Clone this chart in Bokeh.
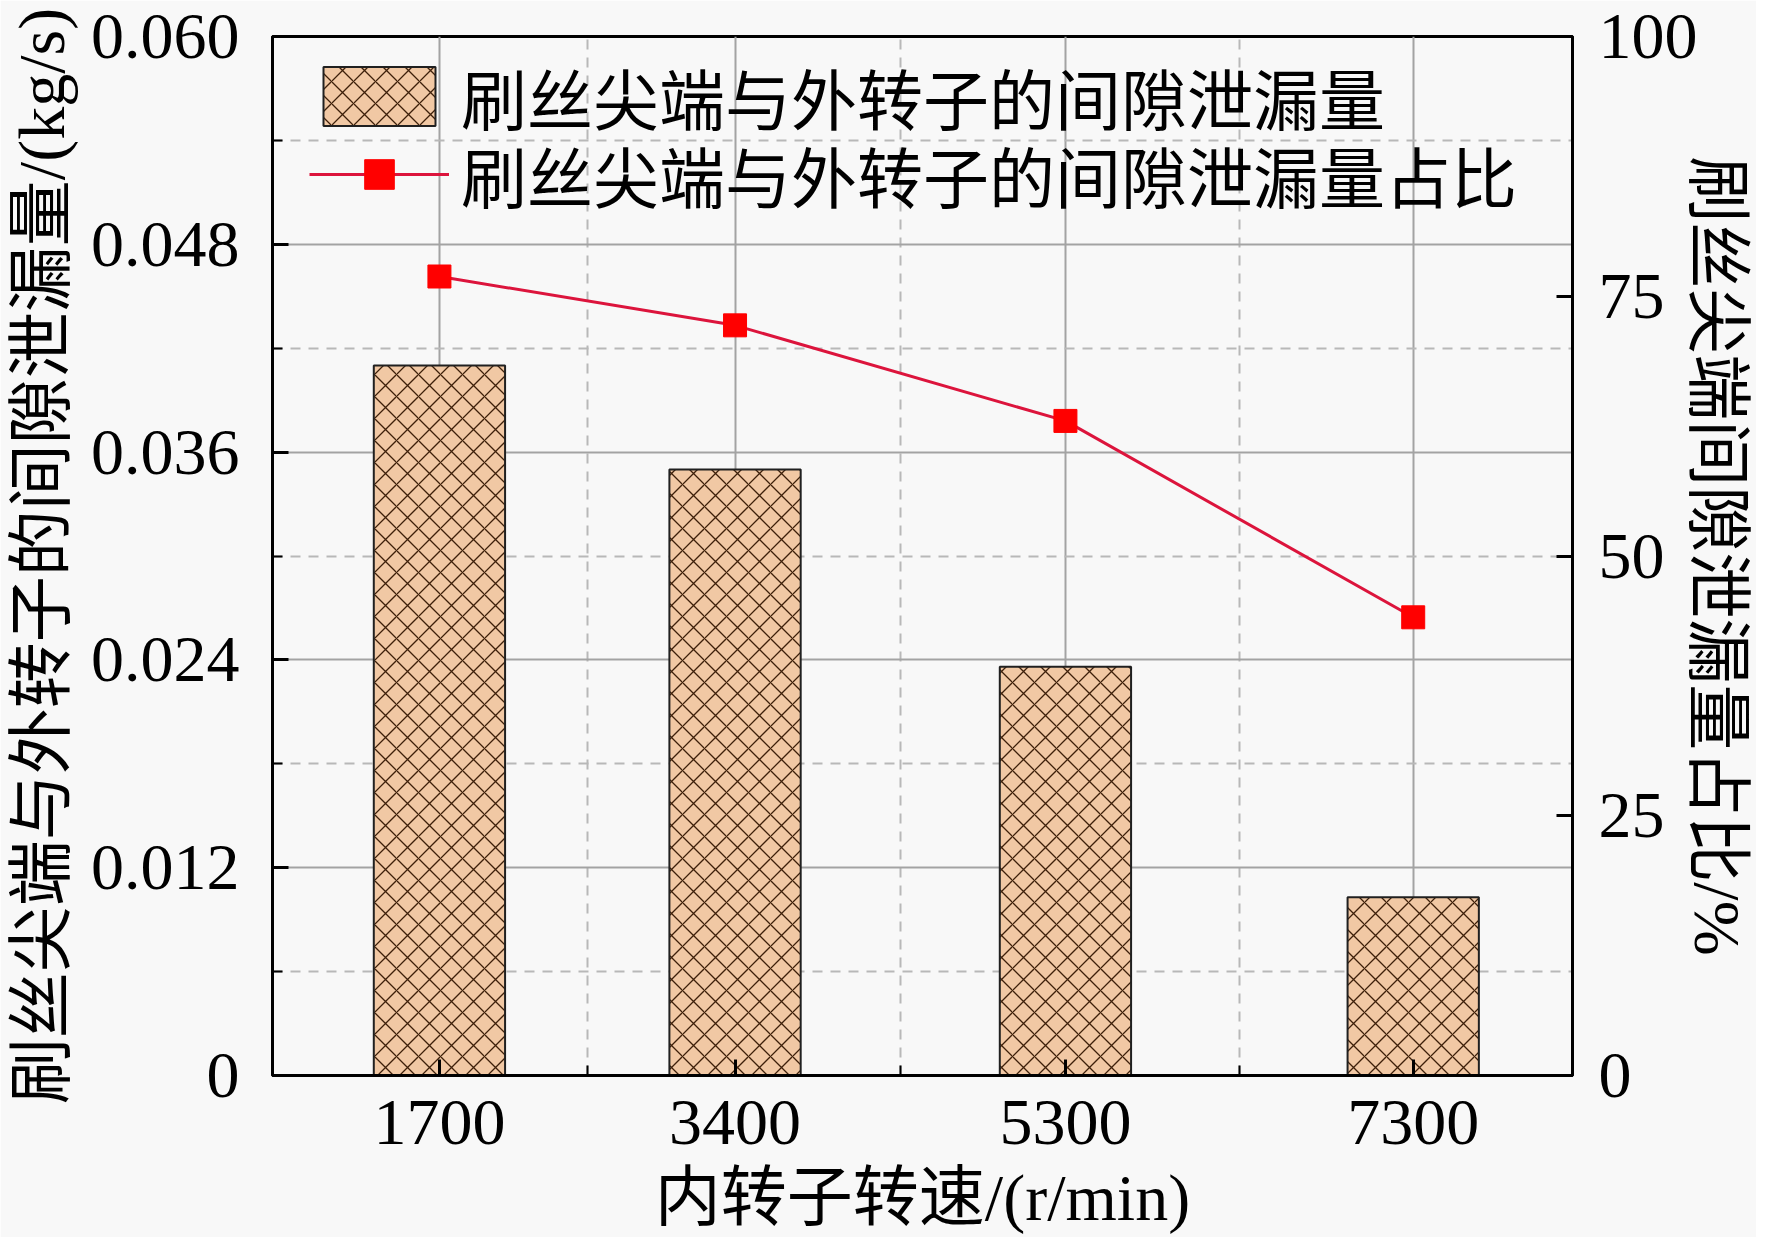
from bokeh.plotting import figure
from bokeh.models import Range1d, LinearAxis, FixedTicker, Legend, LegendItem
from bokeh.embed import file_html
from bokeh.resources import INLINE

# ---- data ----
speeds = [1700, 3400, 5300, 7300]
leakage = [0.0410, 0.0350, 0.0236, 0.0103]
ratio = [76.9, 72.2, 63.0, 44.1]

x_ticks = [1700, 3400, 5300, 7300]
x_minor = [2550, 4350, 6300]
y_ticks = [0, 0.012, 0.024, 0.036, 0.048, 0.060]
y_tick_labels = ["0", "0.012", "0.024", "0.036", "0.048", "0.060"]
y_minor = [0.006, 0.018, 0.030, 0.042, 0.054]
r_ticks = [0, 25, 50, 75, 100]

bar_label = "刷丝尖端与外转子的间隙泄漏量"
line_label = "刷丝尖端与外转子的间隙泄漏量占比"
x_title = "内转子转速/(r/min)"
y_title = "刷丝尖端与外转子的间隙泄漏量/(kg/s)"
r_title = "刷丝尖端间隙泄漏量占比/%"

FONT = "Liberation Serif, Noto Sans CJK SC"
BG = "#f8f8f8"
FS = "66px"

p = figure(width=1756, height=1237,
           x_range=Range1d(740, 8216), y_range=Range1d(0, 0.06),
           output_backend="svg", toolbar_location=None,
           min_border_left=272, min_border_right=184,
           min_border_top=36, min_border_bottom=162)
p.extra_y_ranges = {"pct": Range1d(0, 100)}
p.background_fill_color = BG
p.border_fill_color = BG
p.outline_line_color = "black"
p.outline_line_width = 3

# grids
for g in (p.xgrid, p.ygrid):
    g.grid_line_color = "#a3a3a3"
    g.grid_line_width = 2
    g.minor_grid_line_color = "#b8b8b8"
    g.minor_grid_line_width = 2
    g.minor_grid_line_dash = "10 8"

# bars
bars = p.vbar(x=speeds, top=leakage, width=755, bottom=0,
              fill_color="#f1c8a4", line_color="#202020", line_width=2,
              hatch_pattern="x", hatch_color="#3e200a", hatch_scale=22,
              hatch_weight=1.3)

# line + markers on right axis
ln = p.line(x=speeds, y=ratio, y_range_name="pct", line_color="#dc143c",
            line_width=3)
mk = p.scatter(x=speeds, y=ratio, y_range_name="pct", marker="square",
               size=23, fill_color="#ff0000", line_color="#ff0000")

# axes
xa = p.xaxis[0]
xa.ticker = FixedTicker(ticks=x_ticks, minor_ticks=x_minor)
xa.axis_label = x_title
ya = p.yaxis[0]
ya.ticker = FixedTicker(ticks=y_ticks, minor_ticks=y_minor)
ya.major_label_overrides = {t: l for t, l in zip(y_ticks, y_tick_labels)}
ya.axis_label = y_title

ra = LinearAxis(y_range_name="pct", ticker=FixedTicker(ticks=r_ticks),
                axis_label=r_title)
p.add_layout(ra, "right")

for ax in (xa, ya, ra):
    ax.axis_line_width = 3
    ax.axis_line_color = "black"
    ax.major_tick_line_width = 3
    ax.major_tick_line_color = "black"
    ax.major_tick_in = 16
    ax.major_tick_out = 0
    ax.minor_tick_line_width = 2
    ax.minor_tick_line_color = "black"
    ax.minor_tick_in = 10
    ax.minor_tick_out = 0
    ax.major_label_text_font = FONT
    ax.major_label_text_font_size = FS
    ax.major_label_text_color = "black"
    ax.axis_label_text_font = FONT
    ax.axis_label_text_font_size = FS
    ax.axis_label_text_font_style = "normal"
    ax.axis_label_text_color = "black"
ra.minor_tick_line_color = None

ya.major_label_standoff = 33
ya.axis_label_standoff = 10
xa.major_label_standoff = 25
xa.axis_label_standoff = 14
ra.major_label_standoff = 26
ra.axis_label_standoff = -20


def make_legend(item, y):
    lg = Legend(items=[item], location=(37, y))
    lg.background_fill_alpha = 0
    lg.border_line_color = None
    lg.padding = 0
    lg.margin = 0
    lg.glyph_width = 140
    lg.glyph_height = 74
    lg.label_standoff = 12
    lg.label_text_font = FONT
    lg.label_text_font_size = FS
    lg.label_text_color = "black"
    return lg


p.add_layout(make_legend(LegendItem(label=bar_label, renderers=[bars]), 931), "center")
p.add_layout(make_legend(LegendItem(label=line_label, renderers=[ln, mk]), 853), "center")

open("out.html", "w").write(file_html(p, INLINE))
